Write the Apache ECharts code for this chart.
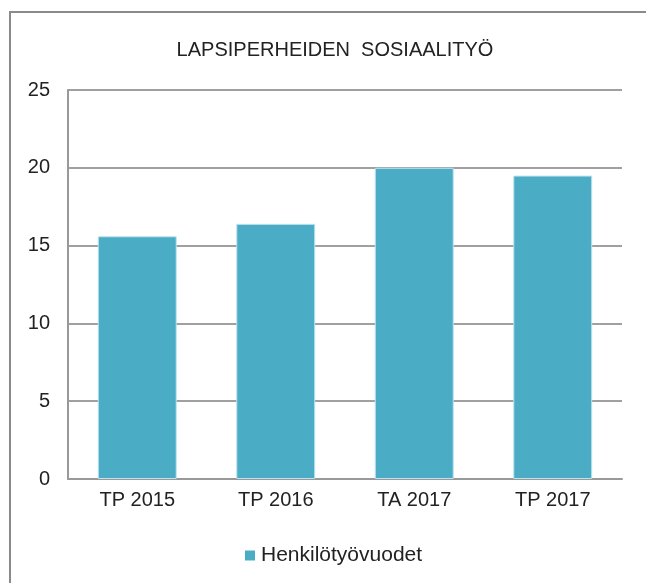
<!DOCTYPE html>
<html>
<head>
<meta charset="utf-8">
<style>
html, body { margin: 0; padding: 0; background: #fff; }
#chart { width: 646px; height: 583px; }
</style>
<script src="https://cdn.jsdelivr.net/npm/echarts@6/dist/echarts.min.js"></script>
</head>
<body>
<div id="chart"></div>
<script>
// data
var categories = ['TP 2015', 'TP 2016', 'TA 2017', 'TP 2017'];
var henkilotyovuodet = [15.6, 16.4, 20, 19.5];
var seriesName = 'Henkilötyövuodet';
var chartTitle = 'LAPSIPERHEIDEN  SOSIAALITYÖ';

var myChart = echarts.init(document.getElementById('chart'), null, { renderer: 'canvas' });
var font = 'Liberation Sans, Arial, sans-serif';

var options = {
    backgroundColor: '#fff',
    animation: false,
    title: {
        text: chartTitle,
        left: 330,
        textAlign: 'center',
        top: 35,
        textStyle: { fontFamily: font, fontSize: 20, fontWeight: 'normal', color: '#222' }
    },
    graphic: [{
        type: 'rect',
        shape: { x: 10, y: 12, width: 660, height: 620 },
        style: { fill: null, stroke: '#8a8a8a', lineWidth: 2 },
        silent: true
    }],
    grid: { left: 68, right: 24, top: 90, bottom: 104 },
    legend: {
        data: [seriesName],
        top: 540,
        left: 240,
        icon: 'rect',
        itemWidth: 10,
        itemHeight: 10,
        itemGap: 5,
        itemStyle: { borderWidth: 0 },
        textStyle: { fontFamily: font, fontSize: 21, color: '#222', padding: [0, 0, 0, 1] }
    },
    xAxis: {
        type: 'category',
        data: categories,
        axisLine: { lineStyle: { color: '#999', width: 2 } },
        axisTick: { show: false },
        axisLabel: { fontFamily: font, fontSize: 20, color: '#222', margin: 11 }
    },
    yAxis: {
        type: 'value',
        min: 0,
        max: 25,
        interval: 5,
        axisLine: { show: true, lineStyle: { color: '#999', width: 2 } },
        axisTick: { show: false },
        splitLine: { lineStyle: { color: '#a0a0a0', width: 2 } },
        axisLabel: { fontFamily: font, fontSize: 20, color: '#222', margin: 18 }
    },
    series: [{
        name: seriesName,
        type: 'bar',
        data: henkilotyovuodet,
        barCategoryGap: '43%',
        itemStyle: { color: '#4bacc6', borderColor: '#bfe3ee', borderWidth: 1 }
    }]
};
myChart.setOption(options);
</script>
</body>
</html>
